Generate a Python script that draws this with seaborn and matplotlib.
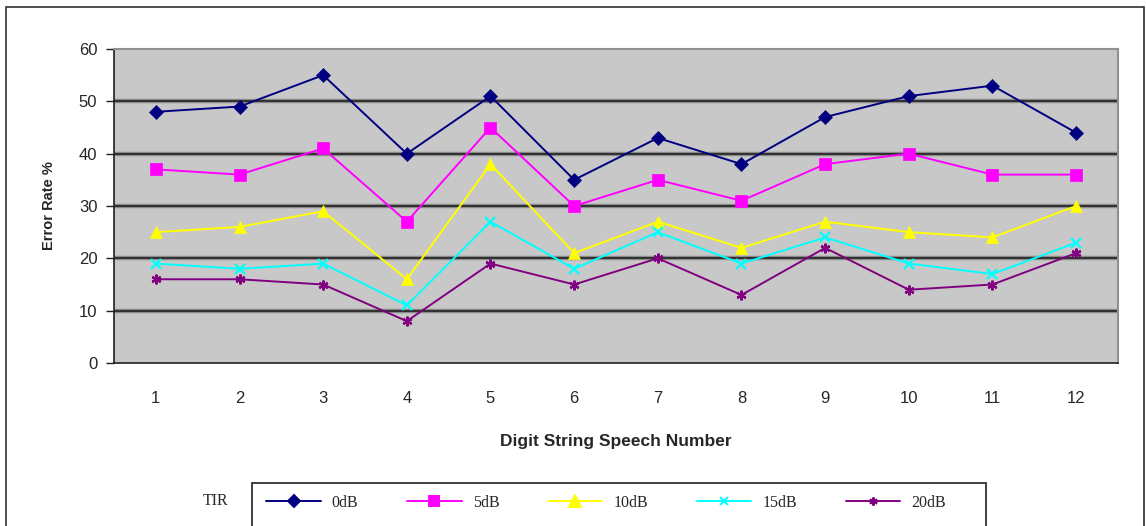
import matplotlib
matplotlib.use("Agg")
import matplotlib.pyplot as plt
import seaborn as sns
import pandas as pd
import numpy as np

# Error rate (%) per digit string, for each target-to-interference ratio
speech_numbers = list(range(1, 13))
tir_labels = ["0dB", "5dB", "10dB", "15dB", "20dB"]
err_0db = [48, 49, 55, 40, 51, 35, 43, 38, 47, 51, 53, 44]
err_5db = [37, 36, 41, 27, 45, 30, 35, 31, 38, 40, 36, 36]
err_10db = [25, 26, 29, 16, 38, 21, 27, 22, 27, 25, 24, 30]
err_15db = [19, 18, 19, 11, 27, 18, 25, 19, 24, 19, 17, 23]
err_20db = [16, 16, 15, 8, 19, 15, 20, 13, 22, 14, 15, 21]

series = [err_0db, err_5db, err_10db, err_15db, err_20db]
colors = ["#000080", "#FF00FF", "#FFFF00", "#00FFFF", "#800080"]
markers = ["D", "s", "^", "x", (6, 2, 0)]
msizes = [7, 9, 9, 7, 7]

df = pd.DataFrame({
    "Speech": np.tile(speech_numbers, len(tir_labels)),
    "Error": np.concatenate(series),
    "TIR": np.repeat(tir_labels, len(speech_numbers)),
})

sns.set_style("white")
plt.rcParams["font.family"] = ["Liberation Sans", "DejaVu Sans"]

fig = plt.figure(figsize=(11.46, 5.26), dpi=100)
W, H = 1146, 526
ax = fig.add_axes([114 / W, 1 - 363 / H, (1118 - 114) / W, (363 - 49) / H])
ax.set_facecolor("#C8C8C8")

# horizontal gridlines with a soft shadow
for yv in range(10, 60, 10):
    ax.axhline(yv, color="#8A8A8A", lw=3.2, zorder=1)
    ax.axhline(yv, color="#303030", lw=1.4, zorder=1.1)

for lab, col, mk, ms in zip(tir_labels, colors, markers, msizes):
    sub = df[df["TIR"] == lab]
    thin = mk == "x" or isinstance(mk, tuple)
    sns.lineplot(data=sub, x="Speech", y="Error", ax=ax, color=col,
                 marker=mk, markersize=ms, markeredgecolor=col,
                 markeredgewidth=1.6 if thin else 0.5,
                 lw=1.4, label=lab, legend=False, zorder=3)

ax.set_xlim(0.5, 12.5)
ax.set_ylim(0, 60)
ax.set_yticks(range(0, 61, 10))
ax.set_xticks(speech_numbers)
ax.set_xticks(np.arange(0.5, 13, 1), minor=True)
ax.tick_params(axis="x", which="major", length=0, pad=20, labelsize=12)
ax.tick_params(axis="x", which="minor", length=6, width=1, color="#202020", direction="out")
ax.tick_params(axis="y", length=6, width=1, color="#202020", direction="out", pad=6, labelsize=12)
ax.tick_params(axis="both", bottom=True, left=True)
for s in ["top", "right"]:
    ax.spines[s].set_color("#909090")
    ax.spines[s].set_linewidth(1.5)
for s in ["left", "bottom"]:
    ax.spines[s].set_color("#202020")
    ax.spines[s].set_linewidth(1.2)

ax.set_xlabel("Digit String Speech Number", fontsize=12.5, fontweight="bold", labelpad=20)
ax.set_ylabel("Error Rate %", fontsize=10.5, fontweight="bold", labelpad=16)

# outer chart frame
frame = plt.Rectangle((6 / W, -0.02), (1144 - 6) / W, 1 - 7 / H + 0.02,
                      transform=fig.transFigure, fill=False, edgecolor="#303030", lw=1.2)
fig.add_artist(frame)

# legend box, running off the bottom edge
legbox = plt.Rectangle((252 / W, -0.02), (986 - 252) / W, 1 - 483 / H + 0.02,
                       transform=fig.transFigure, fill=False, edgecolor="#202020", lw=1.2)
fig.add_artist(legbox)

handles = []
lsizes = [6, 7, 8, 6, 6]
for lab, col, mk, ms in zip(tir_labels, colors, markers, lsizes):
    h, = ax.plot([], [], color=col, marker=mk, markersize=ms, markeredgecolor=col,
                 markeredgewidth=1.4, lw=1.4, label=lab)
    handles.append(h)
leg = fig.legend(handles=handles, loc="center left", ncol=5,
                 bbox_to_anchor=(252 / W, 1 - 503 / H), frameon=False,
                 handlelength=3.4, handletextpad=0.7, columnspacing=3.05,
                 prop={"family": "Liberation Serif", "size": 11.5})
fig.text(203 / W, 1 - 501 / H, "TIR", fontsize=11.5, family="Liberation Serif",
         ha="left", va="center")

fig.savefig("out.png", dpi=100, facecolor="white")
